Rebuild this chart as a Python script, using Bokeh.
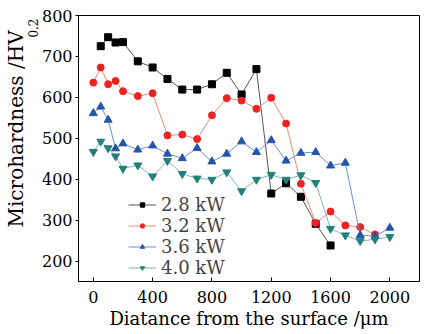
from bokeh.plotting import figure
from bokeh.models import Legend, LegendItem, FixedTicker, Title
from bokeh.embed import file_html
from bokeh.resources import INLINE

x_28 = [50, 100, 150, 200, 300, 400, 500, 600, 700, 800, 900, 1000, 1100, 1200, 1300, 1400, 1500, 1600]
y_28 = [725, 747, 734, 735, 688, 673, 645, 619, 619, 632, 660, 607, 669, 365, 390, 357, 291, 238]

x_32 = [0, 50, 100, 150, 200, 300, 400, 500, 600, 700, 800, 900, 1000, 1100, 1200, 1300, 1400, 1500, 1600, 1700, 1800, 1900]
y_32 = [636, 673, 632, 640, 615, 603, 610, 507, 509, 498, 556, 598, 592, 572, 599, 536, 389, 293, 321, 287, 283, 265]

x_36 = [0, 50, 100, 150, 200, 300, 400, 500, 600, 700, 800, 900, 1000, 1100, 1200, 1300, 1400, 1500, 1600, 1700, 1800, 1900, 2000]
y_36 = [561, 577, 545, 475, 487, 472, 482, 462, 451, 476, 443, 462, 492, 466, 495, 445, 464, 466, 433, 440, 263, 261, 281]

x_40 = [0, 50, 100, 150, 200, 300, 400, 500, 600, 700, 800, 900, 1000, 1100, 1200, 1300, 1400, 1500, 1600, 1700, 1800, 1900, 2000]
y_40 = [467, 492, 476, 456, 426, 434, 407, 445, 413, 402, 399, 417, 371, 399, 411, 399, 410, 391, 279, 263, 249, 253, 259]

series_labels = ["2.8 kW", "3.2 kW", "3.6 kW", "4.0 kW"]
x_ticks = [0, 400, 800, 1200, 1600, 2000]
y_ticks = [200, 300, 400, 500, 600, 700, 800]
x_title = "Diatance from the surface /\u03bcm"
y_title = "Microhardness /HV"
y_title_sub = "0.2"

FONT = "DejaVu Serif"

p = figure(width=425, height=334, x_range=(-100, 2200), y_range=(150, 800),
           output_backend="svg", toolbar_location=None,
           min_border_left=78, min_border_right=6, min_border_top=15, min_border_bottom=53)
p.grid.visible = False
p.outline_line_color = "black"
p.outline_line_width = 1
p.background_fill_color = "white"
p.border_fill_color = "white"

p.xaxis.ticker = FixedTicker(ticks=x_ticks)
p.yaxis.ticker = FixedTicker(ticks=y_ticks)
for ax in (p.xaxis, p.yaxis):
    ax.axis_line_color = "black"
    ax.major_tick_line_color = "black"
    ax.minor_tick_line_color = None
    ax.major_label_text_font = FONT
    ax.major_label_text_font_size = "16px"
    ax.major_label_text_color = "black"
p.xaxis.major_tick_in = 4
p.xaxis.major_tick_out = 0
p.xaxis.major_label_standoff = 9
p.xaxis.axis_label = x_title
p.xaxis.axis_label_text_font = FONT
p.xaxis.axis_label_text_font_style = "normal"
p.xaxis.axis_label_text_font_size = "18px"
p.xaxis.axis_label_text_color = "black"
p.xaxis.axis_label_standoff = 2
p.yaxis.major_tick_in = 0
p.yaxis.major_tick_out = 3
p.yaxis.major_label_standoff = 3

specs = [
    (x_28, y_28, "square", "black", "#555555", 7),
    (x_32, y_32, "circle", "#ee2222", "#f08a7a", 7),
    (x_36, y_36, "triangle", "#2356a8", "#6e8fd0", 8),
    (x_40, y_40, "inverted_triangle", "#23807c", "#80b8b2", 8),
]
items = []
for (xs, ys, marker, mc, lc, sz), lab in zip(specs, series_labels):
    r1 = p.line(xs, ys, line_color=lc, line_width=1)
    r2 = p.scatter(xs, ys, marker=marker, size=sz, fill_color=mc, line_color=mc)
    items.append(LegendItem(label=lab, renderers=[r1, r2]))

legend = Legend(items=items, location=(50, 3), orientation="vertical",
                label_text_font=FONT, label_text_font_size="18px",
                glyph_width=28, glyph_height=11, label_height=21, spacing=0,
                padding=2, margin=0, label_standoff=5,
                border_line_color=None, background_fill_alpha=0)
p.add_layout(legend, "center")

sub_t = Title(text=y_title_sub, align="right", offset=3, standoff=0,
              vertical_align="middle",
              text_font=FONT, text_font_size="12px", text_font_style="normal",
              text_color="black")
main_t = Title(text=y_title, align="left", offset=54, standoff=-3,
               text_font=FONT, text_font_size="20px", text_font_style="normal",
               text_color="black")
p.add_layout(sub_t, "left")
p.add_layout(main_t, "left")

open("out.html", "w").write(file_html(p, INLINE))
